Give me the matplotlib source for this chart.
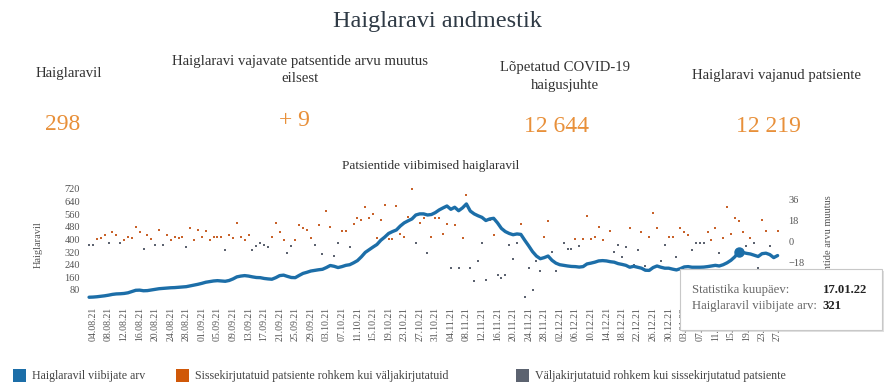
import numpy as np
import pandas as pd
import matplotlib
matplotlib.use('Agg')
import matplotlib.pyplot as plt
from matplotlib.patches import Rectangle

plt.rcParams['font.family'] = ['Liberation Serif', 'DejaVu Serif']

# andmed: päevased väärtused alates 03.08.21
algus = '2021-08-03'
haiglaravil = [
    34, 35, 37, 40, 43, 47, 52, 55, 56, 58, 62, 70, 78, 79, 75, 76, 80, 84, 88, 90,
    92, 94, 95, 97, 99, 101, 106, 111, 116, 122, 129, 133, 137, 139, 137, 135, 140, 150, 163, 168,
    171, 168, 163, 159, 158, 153, 150, 148, 158, 171, 174, 166, 159, 158, 172, 185, 192, 200, 204, 208,
    211, 222, 235, 230, 222, 228, 236, 240, 252, 266, 290, 318, 335, 352, 368, 395, 415, 438, 450, 460,
    485, 505, 518, 530, 555, 562, 562, 555, 558, 570, 587, 600, 612, 591, 604, 582, 600, 625, 580, 562,
    550, 540, 520, 530, 534, 505, 470, 450, 438, 430, 435, 432, 395, 360, 323, 295, 278, 285, 295, 268,
    250, 240, 236, 232, 229, 228, 225, 228, 245, 250, 256, 264, 266, 264, 259, 256, 247, 242, 236, 224,
    230, 224, 218, 205, 204, 222, 232, 224, 218, 218, 212, 207, 215, 226, 228, 224, 224, 224, 225, 228,
    232, 236, 232, 240, 252, 268, 290, 321, 318, 312, 308, 300, 292, 310, 313, 304, 285, 298,
]
# sissekirjutatud - väljakirjutatud (positiivne = oranž, negatiivne = hall)
muutus = [
    -3, -3, 2, 3, 6, -1, 8, 6, -1, 1, 4, 3, 13, 8, -6, 6, 2, -3, 10, -3,
    6, 1, 4, 3, 4, -5, 12, 1, 10, 4, 9, 1, 4, 4, 4, -7, 6, 3, 16, 4,
    1, 6, -7, -4, -1, -3, -5, 4, 16, 8, 1, -10, -4, 1, 14, 12, 10, 3, -3, 14,
    -11, 26, 13, -12, -1, 9, 9, -5, 15, 20, 19, 30, 20, 24, 3, 19, 32, 2, 2, 31,
    7, 4, 21, 45, -1, 16, 20, -10, 4, 20, 20, 7, 15, -23, 14, -23, 3, 40, -23, -34,
    -17, -1, -33, 19, 6, -29, -31, -29, -3, -15, -1, 15, -48, -23, -42, -17, -25, 4, 18, -9,
    -25, -20, -1, -6, -6, 2, -4, 2, 22, 2, 4, 13, 1, -17, 9, -9, -3, -13, -5, 12,
    -20, -7, 8, -21, 4, 25, 12, -17, -3, 4, 4, -13, 12, 8, 6, -7, -1, -1, -1, 8,
    1, 12, -10, 3, 30, 7, 20, 18, 8, -4, 3, -1, -23, 19, 9, -4, -14, 9,
]
naitajad = ['Haiglaravil', 'Haiglaravi vajavate patsentide arvu muutus\neilsest',
            'Lõpetatud COVID-19\nhaigusjuhte', 'Haiglaravi vajanud patsiente']
naitaja_vaartused = ['298', '+ 9', '12 644', '12 219']
tooltip_kuup = '17.01.22'
tooltip_arv = 321

paevad = pd.date_range(algus, periods=len(haiglaravil), freq='D')
x = np.arange(len(paevad))
muutus = np.array(muutus)

W, H = 891, 387
fig = plt.figure(figsize=(W / 100, H / 100), dpi=100)


def fx(px):
    return px / W


def fy(py):
    return 1 - py / H


sinine = '#1c6ea8'
oranz = '#c8622a'
hall = '#5c6370'
tekst = '#444444'

# päis
fig.text(fx(437), fy(22), 'Haiglaravi andmestik', ha='center', va='center',
         fontsize=17.5, color='#2f3a45')
for cx, ty, lab in zip([69, 300, 565, 777], [73, 70, 76.5, 76], naitajad):
    fig.text(fx(cx), fy(ty), lab, ha='center', va='center', fontsize=10.6,
             color='#333333', linespacing=1.4)
for cx, ty, val in zip([63, 294, 557, 768], [124, 121, 126, 126], naitaja_vaartused):
    fig.text(fx(cx), fy(ty), val, ha='center', va='center', fontsize=17,
             color='#e8903a')

# graafik
ax = fig.add_axes([fx(84), fy(302.6), (785 - 84) / W, (302.6 - 185) / H])
ax2 = ax.twinx()
ax.set_zorder(ax2.get_zorder() + 1)
ax.patch.set_visible(False)

ax.plot(x, haiglaravil, color=sinine, lw=2.4, solid_capstyle='round')
i_tt = list(paevad.strftime('%d.%m.%y')).index(tooltip_kuup)
ax.plot(x[i_tt], tooltip_arv, 'o', ms=6.5, color=sinine)

pos = muutus > 0
ax2.scatter(x[pos], muutus[pos], s=3.2, marker='s', color=oranz, lw=0)
ax2.scatter(x[~pos], muutus[~pos], s=3.2, marker='s', color=hall, lw=0)

ax.set_xlim(-1.3, 178.9)
ax.set_ylim(0, 745)
ax2.set_ylim(-52.5, 48.8)
ax.set_yticks(np.arange(80, 721, 80))
ax2.set_yticks([-36, -18, 0, 18, 36])
ticks = x[1::4]
ax.set_xticks(ticks)
ax.set_xticklabels(paevad[1::4].strftime('%d.%m.%y'), rotation=90)

for a in (ax, ax2):
    for s in a.spines.values():
        s.set_visible(False)
ax.tick_params(axis='x', length=0, pad=3.2, labelsize=7, labelcolor='#555555')
ax.tick_params(axis='y', length=0, pad=3, labelsize=7.5, labelcolor='#555555')
ax2.tick_params(axis='y', length=0, pad=2.5, labelsize=7.5, labelcolor='#555555')

ax.set_ylabel('Haiglaravil', fontsize=7.5, color='#555555')
ax.yaxis.set_label_coords((43 - 84) / 701, 0.49)
ax2.set_ylabel('Patsientide arvu muutus', fontsize=7.5, color='#555555', rotation=90)
ax2.yaxis.set_label_coords((824 - 84) / 701, 0.49)

fig.text(fx(431), fy(166), 'Patsientide viibimised haiglaravil', ha='center',
         va='center', fontsize=9.5, color='#333333')

# tooltip
fig.add_artist(Rectangle((fx(682), fy(332)), fx(202), 61 / H, transform=fig.transFigure,
                         facecolor='#000000', alpha=0.12, lw=0, zorder=20))
fig.add_artist(Rectangle((fx(680), fy(330)), fx(202), 61 / H, transform=fig.transFigure,
                         facecolor='white', edgecolor='#c8c8c8', lw=0.8, zorder=21))
fig.text(fx(692), fy(290), 'Statistika kuupäev:', va='center', fontsize=9.2,
         color='#666666', zorder=22)
fig.text(fx(823), fy(290), tooltip_kuup, va='center', fontsize=9.2,
         fontweight='bold', color='#222222', zorder=22)
fig.text(fx(692), fy(306), 'Haiglaravil viibijate arv:', va='center', fontsize=9.2,
         color='#666666', zorder=22)
fig.text(fx(822), fy(306), str(tooltip_arv), va='center', fontsize=9.2,
         fontweight='bold', color='#222222', zorder=22)

# legend
legend = [(13, sinine, 'Haiglaravil viibijate arv'),
          (176, '#d05808', 'Sissekirjutatuid patsiente rohkem kui väljakirjutatuid'),
          (516, hall, 'Väljakirjutatuid rohkem kui sissekirjutatud patsiente')]
for lx, c, lab in legend:
    fig.add_artist(Rectangle((fx(lx), fy(382)), fx(13), 13 / H, transform=fig.transFigure,
                             facecolor=c, lw=0))
    fig.text(fx(lx + 19), fy(375.5), lab, va='center', fontsize=8.6, color=tekst)

fig.savefig('out.png', dpi=100)
